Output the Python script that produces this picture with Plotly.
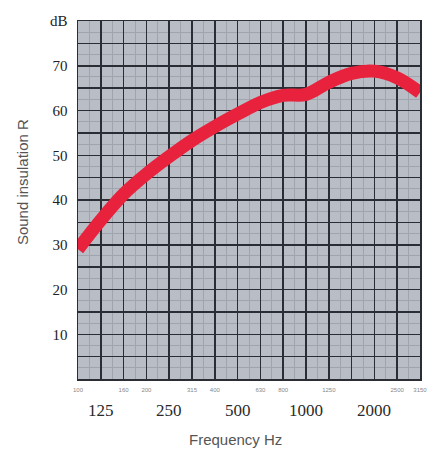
import plotly.graph_objects as go

# Data
bands = ["100", "125", "160", "200", "250", "315", "400", "500", "630", "800",
         "1000", "1250", "1600", "2000", "2500", "3150"]
R_db = [29, 35.5, 41.3, 45.8, 49.7, 53.3, 56.4, 59.2, 61.8, 63.4,
        63.6, 66.3, 68.3, 68.8, 67.3, 64.0]
small_labels = ["100", "160", "200", "315", "400", "630", "800", "1250", "2500", "3150"]
big_labels = ["125", "250", "500", "1000", "2000"]
y_tick_vals = [0, 5, 10, 15, 20, 25, 30, 35, 40, 45, 50, 55, 60, 65, 70, 75, 80]
y_tick_text = ["", "", "10", "", "20", "", "30", "", "40", "", "50", "", "60", "", "70", "", "dB"]

xi = list(range(len(bands)))

fig = go.Figure()
fig.add_trace(go.Scatter(
    x=xi, y=R_db, mode="lines",
    line=dict(color="#e8223d", width=13, shape="spline", smoothing=1.0),
    hoverinfo="skip", showlegend=False,
))

grid_major = "#2a2d33"
grid_minor = "#a0a4ac"

fig.update_layout(
    width=431, height=452,
    margin=dict(l=78, r=11, t=21, b=73),
    paper_bgcolor="white",
    plot_bgcolor="#b9bdc5",
    showlegend=False,
    xaxis=dict(
        range=[0, len(bands) - 1],
        tickmode="array",
        tickvals=xi,
        ticktext=[b if b in small_labels else "" for b in bands],
        tickfont=dict(family="Liberation Sans", size=6, color="#888888"),
        showgrid=True, gridcolor=grid_major, gridwidth=1.5,
        minor=dict(dtick=0.5, showgrid=True, gridcolor=grid_minor, gridwidth=1),
        showline=True, linecolor=grid_major, linewidth=1.5, mirror=True,
        zeroline=False, ticks="", ticklabelstandoff=4, fixedrange=True,
        automargin=False,
    ),
    yaxis=dict(
        range=[0, 80],
        tickmode="array",
        tickvals=y_tick_vals,
        ticktext=y_tick_text,
        tickfont=dict(family="Liberation Serif", size=15, color="#222222"),
        showgrid=True, gridcolor=grid_major, gridwidth=1.5,
        minor=dict(dtick=2.5, showgrid=True, gridcolor=grid_minor, gridwidth=1),
        showline=True, linecolor=grid_major, linewidth=1.5, mirror=True,
        zeroline=False, ticks="", ticklabelstandoff=6, fixedrange=True,
        automargin=False,
    ),
)

for lab in big_labels:
    fig.add_annotation(
        x=bands.index(lab), y=0, xref="x", yref="paper",
        yanchor="top", yshift=-20, showarrow=False, text=lab,
        font=dict(family="Liberation Serif", size=17, color="#2a2a2a"),
    )

fig.add_annotation(
    x=0.46, y=0, xref="paper", yref="paper", yanchor="top", yshift=-50,
    showarrow=False, text="Frequency Hz",
    font=dict(family="Liberation Sans", size=15, color="#555555"),
)
fig.add_annotation(
    x=0, y=0.55, xref="paper", yref="paper", xanchor="center", xshift=-56,
    textangle=-90, showarrow=False, text="Sound insulation R",
    font=dict(family="Liberation Sans", size=15, color="#555555"),
)

fig.write_html(
    "out.html",
    config={"displayModeBar": False, "staticPlot": True},
    post_script="document.body.style.margin='0';document.body.style.overflow='hidden';",
)
